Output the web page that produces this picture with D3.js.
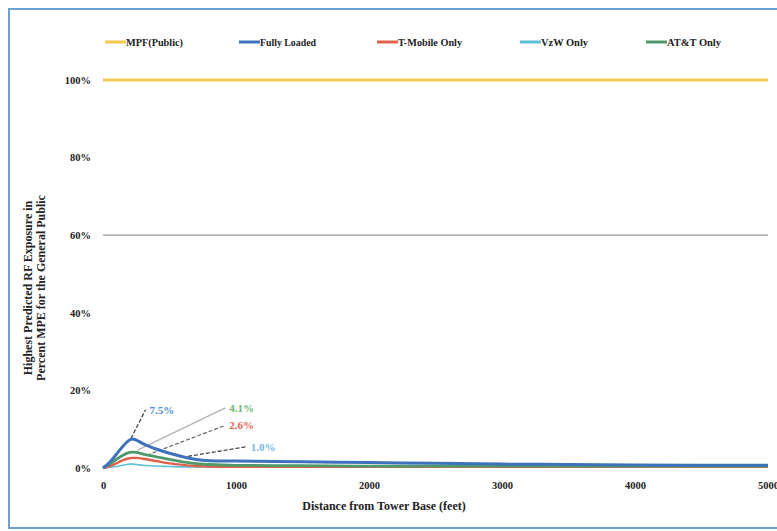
<!DOCTYPE html>
<html>
<head>
<meta charset="utf-8">
<script src="https://cdn.jsdelivr.net/npm/d3@7"></script>
<style>
  body { margin: 0; background: #fff; }
  text { font-family: "Liberation Serif", "DejaVu Serif", serif; font-weight: bold; }
</style>
</head>
<body>
<div id="chart1"></div>
<script>

// distances from tower base (feet)
const distances = [0, 50, 100, 150, 200, 220, 250, 300, 400, 500, 600, 700, 800, 1000, 1500, 2000, 2500, 3000, 3500, 4000, 4500, 5000];

// percent of MPF
const mpfPublic   = distances.map(() => 100);
const fullyLoaded = [0, 1.5, 3.5, 5.6, 7.2, 7.5, 7.2, 6.3, 4.9, 3.8, 2.9, 2.2, 1.9, 1.8, 1.6, 1.4, 1.2, 1.0, 0.9, 0.8, 0.7, 0.7];
const tMobileOnly = [0, 0.5, 1.2, 2.0, 2.5, 2.6, 2.6, 2.4, 1.8, 1.2, 0.8, 0.5, 0.4, 0.3, 0.3, 0.3, 0.3, 0.3, 0.3, 0.3, 0.3, 0.3];
const vzwOnly     = [0, 0.2, 0.4, 0.7, 1.0, 1.0, 0.9, 0.7, 0.5, 0.4, 0.3, 0.3, 0.2, 0.2, 0.2, 0.2, 0.3, 0.3, 0.4, 0.4, 0.5, 0.5];
const attOnly     = [0, 1.0, 2.2, 3.3, 4.0, 4.1, 4.0, 3.6, 2.9, 2.2, 1.6, 1.1, 0.9, 0.7, 0.6, 0.5, 0.5, 0.5, 0.5, 0.5, 0.5, 0.5];

const seriesNames = ["MPF(Public)", "Fully Loaded", "T-Mobile Only", "VzW Only", "AT&T Only"];
const seriesColors = ["#f2c94c", "#3f72bd", "#e0604a", "#5bc0d8", "#4e9a6a"];
const seriesValues = [mpfPublic, fullyLoaded, tMobileOnly, vzwOnly, attOnly];

const xTicks = [0, 1000, 2000, 3000, 4000, 5000];
const yTicks = [0, 20, 40, 60, 80, 100];
const refLine = 60;

// peak callouts: [label, from distance, from value, label x (ft), label y (%), text colour, leader colour, dashed]
const callouts = [
  ["7.5%", 210, 7.6, 350, 15.0, "#4a8fd8", "#333", true],
  ["4.1%", 260, 4.6, 950, 15.5, "#6bb86e", "#b5b5b5", false],
  ["2.6%", 330, 3.3, 950, 11.0, "#e0634a", "#666", true],
  ["1.0%", 640, 3.0, 1110, 5.5, "#6fb6ea", "#333", true]
];

const width = 777;
const height = 531;
const margin = {top: 80, right: 9, bottom: 63, left: 103};

const svg = d3.select("#chart1").append("svg")
    .attr("width", width)
    .attr("height", height);

// frame
svg.append("rect")
    .attr("x", 9).attr("y", 9)
    .attr("width", 800).attr("height", 519)
    .attr("fill", "none")
    .attr("stroke", "#6b9fd2")
    .attr("stroke-width", 2);

const x = d3.scaleLinear().domain([0, 5000]).range([margin.left, width - margin.right]);
const y = d3.scaleLinear().domain([0, 100]).range([height - margin.bottom, margin.top]);

// y axis labels
const yAxis = svg.append("g")
    .attr("transform", "translate(" + (margin.left - 9) + ",0)")
    .call(d3.axisLeft(y).tickValues(yTicks).tickFormat(d => d + "%").tickSize(0));
yAxis.select(".domain").remove();
yAxis.selectAll("text").attr("font-size", 10.5).attr("fill", "#222")
    .attr("font-family", "Liberation Serif").attr("font-weight", "bold");

// x axis labels
const xAxis = svg.append("g")
    .attr("transform", "translate(0," + (height - margin.bottom + 11) + ")")
    .call(d3.axisBottom(x).tickValues(xTicks).tickFormat(d3.format("d")).tickSize(0));
xAxis.select(".domain").remove();
xAxis.selectAll("text").attr("font-size", 10.5).attr("fill", "#222")
    .attr("font-family", "Liberation Serif").attr("font-weight", "bold");

// 60% reference line
svg.append("line")
    .attr("x1", x(0)).attr("x2", x(5000))
    .attr("y1", y(refLine)).attr("y2", y(refLine))
    .attr("stroke", "#999").attr("stroke-width", 1.2);

// callout leader lines
callouts.forEach(c => {
  svg.append("line")
      .attr("x1", x(c[1])).attr("y1", y(c[2]))
      .attr("x2", x(c[3]) - 4).attr("y2", y(c[4]))
      .attr("stroke", c[6]).attr("stroke-width", c[7] ? 1.2 : 1.6)
      .attr("stroke-dasharray", c[7] ? "4,2" : null);
});

// series lines
const line = d3.line()
    .x((d, i) => x(distances[i]))
    .y(d => y(d))
    .curve(d3.curveMonotoneX);

const drawOrder = [0, 3, 2, 4, 1];
const strokeW = [3, 3, 2.4, 1.6, 2.8];
drawOrder.forEach(k => {
  svg.append("path")
      .datum(seriesValues[k])
      .attr("fill", "none")
      .attr("stroke", seriesColors[k])
      .attr("stroke-width", strokeW[k])
      .attr("d", line);
});

// callout labels
callouts.forEach(c => {
  svg.append("text")
      .attr("x", x(c[3]))
      .attr("y", y(c[4]) + 4)
      .attr("font-size", 11)
      .attr("fill", c[5])
      .text(c[0]);
});

// legend
const legendX = [105, 239, 377, 520, 646];
const legendW = [57, 56, 64, 47, 54];
const legend = svg.append("g").attr("transform", "translate(0,42)");
seriesNames.forEach((name, i) => {
  legend.append("line")
      .attr("x1", legendX[i]).attr("x2", legendX[i] + 21)
      .attr("y1", 0).attr("y2", 0)
      .attr("stroke", seriesColors[i]).attr("stroke-width", 3);
  legend.append("text")
      .attr("x", legendX[i] + 21)
      .attr("y", 3.5)
      .attr("font-size", 10)
      .attr("fill", "#222")
      .attr("textLength", legendW[i])
      .attr("lengthAdjust", "spacingAndGlyphs")
      .text(name);
});

// axis titles
svg.append("text")
    .attr("x", 384).attr("y", 510)
    .attr("text-anchor", "middle")
    .attr("font-size", 12)
    .attr("fill", "#222")
    .text("Distance from Tower Base (feet)");

const yTitle = svg.append("text")
    .attr("transform", "translate(32,288) rotate(-90)")
    .attr("text-anchor", "middle")
    .attr("font-size", 12)
    .attr("fill", "#222");
yTitle.append("tspan").attr("x", 0).attr("dy", 0).text("Highest Predicted RF Exposure in");
yTitle.append("tspan").attr("x", 0).attr("dy", 13).text("Percent MPE for the General Public");

</script>
</body>
</html>
